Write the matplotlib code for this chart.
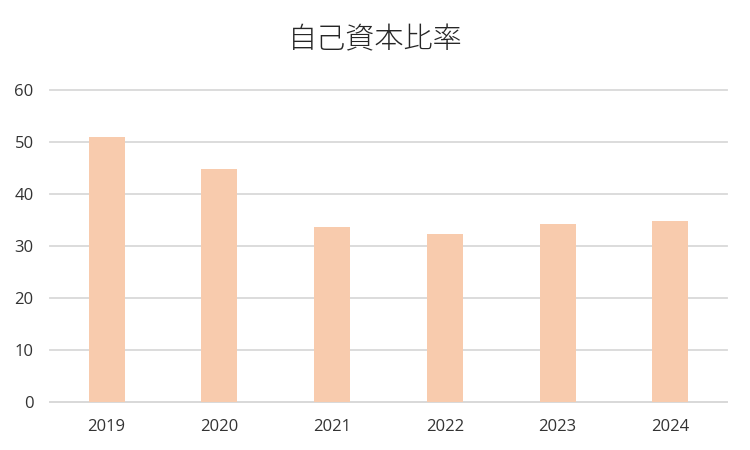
import matplotlib
matplotlib.use("Agg")
import matplotlib.pyplot as plt

years = ["2019", "2020", "2021", "2022", "2023", "2024"]
ratio = [51.1, 44.9, 33.7, 32.4, 34.3, 34.9]
yticks = [0, 10, 20, 30, 40, 50, 60]
title = "自己資本比率"

plt.rcParams['font.family'] = ['Noto Sans CJK JP', 'DejaVu Sans']

fig = plt.figure(figsize=(7.5, 4.5), dpi=100)
ax = fig.add_axes([0.067, 0.107, 0.902, 0.692])
x = list(range(len(years)))
ax.bar(x, ratio, width=0.32, color="#F8CBAD", zorder=3)
ax.set_xlim(-0.5, len(years) - 0.5)
ax.set_ylim(0, 60)
ax.set_yticks(yticks)
ax.set_xticks(x)
ax.set_xticklabels(years)
ax.yaxis.grid(True, color="#D9D9D9", linewidth=1.3, zorder=0)
for gl in ax.get_ygridlines():
    gl.set_clip_on(False)
for s in ["top", "right", "left"]:
    ax.spines[s].set_visible(False)
ax.spines["bottom"].set_color("#D9D9D9")
ax.spines["bottom"].set_linewidth(1.3)
ax.tick_params(axis="both", length=0, labelsize=12, colors="#333333", labelfontfamily="Open Sans")
ax.tick_params(axis="y", pad=12)
ax.tick_params(axis="x", pad=12)
fig.text(0.5, 0.91, title, ha="center", va="center", fontsize=21, color="#262626", fontweight="light")
fig.savefig("out.png", dpi=100, facecolor="white")
